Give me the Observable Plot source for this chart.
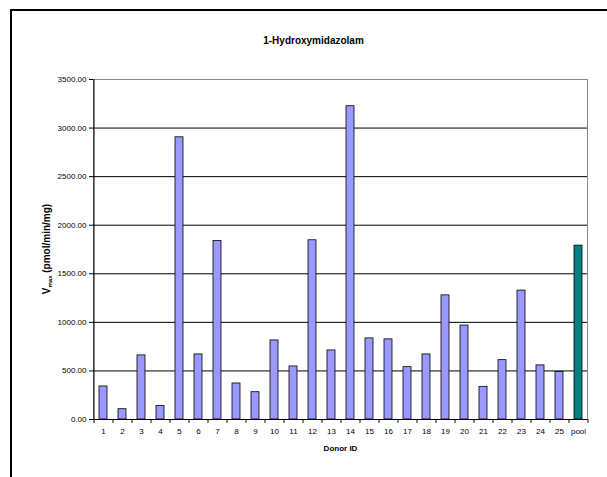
<!DOCTYPE html>
<html><head><meta charset="utf-8">
<script src="https://cdn.jsdelivr.net/npm/d3@7"></script>
<script src="https://cdn.jsdelivr.net/npm/@observablehq/plot@0.6"></script>
<style>
body{margin:0;background:#fff;font-family:"Liberation Sans",Arial,sans-serif;position:relative;width:607px;height:477px;overflow:hidden}
#border{position:absolute;left:10px;top:9px;width:700px;height:600px;border-top:2px solid #000;border-left:2px solid #000;pointer-events:none}
#title{height:60px;box-sizing:border-box;padding-top:35px;padding-left:20px;text-align:center;font-weight:bold;font-size:10px;line-height:12px;color:#000}
#chart svg{display:block}
</style></head>
<body>
<div id="title">1-Hydroxymidazolam</div>
<div id="chart"></div>
<div id="border"></div>
<script>
const donors = ["1","2","3","4","5","6","7","8","9","10","11","12","13","14","15","16","17","18","19","20","21","22","23","24","25","pool"];
const vmax = [340,106,660,140,2905,670,1838,371,281,814,546,1845,711,3225,835,825,539,670,1278,967,336,611,1327,557,488,1790];
const yTicks = [0,500,1000,1500,2000,2500,3000,3500];
const xLabel = "Donor ID";
const yLabelMain = "V";
const yLabelSub = "max";
const yLabelRest = " (pmol/min/mg)";

const data = donors.map((d,i)=>({donor:d, value:vmax[i]}));
const W=607,H=417,ML=93,MR=20,MT=19,MB=58;
const step=(W-ML-MR)/donors.length;
const font = "'Liberation Sans', Arial, sans-serif";

const plot = Plot.plot({
  width:W,height:H,marginLeft:ML,marginRight:MR,marginTop:MT,marginBottom:MB,
  style:{fontFamily:font,fontSize:"8px",color:"#000",background:"transparent"},
  x:{type:"band",domain:donors,paddingInner:0.58,paddingOuter:0.29,label:null},
  y:{domain:[yTicks[0],yTicks[yTicks.length-1]],label:null},
  marks:[
    Plot.frame({stroke:"#888"}),
    Plot.ruleY(yTicks.filter(t=>t>0&&t<3500),{stroke:"#000",strokeWidth:1}),
    Plot.barY(data.filter(d=>d.donor!=="pool"),{x:"donor",y:"value",fill:"#9999FF",stroke:"#000",strokeWidth:0.8}),
    Plot.barY(data.filter(d=>d.donor==="pool"),{x:"donor",y:"value",fill:"#008080",stroke:"#000",strokeWidth:0.8}),
    Plot.ruleY([0],{stroke:"#000"}),
    Plot.ruleX([donors[0]],{x:d=>d,dx:-step/2,y1:0,y2:3500,stroke:"#000"}),
    Plot.ruleX(donors,{x:d=>d,dx:-step/2,y1:0,y2:-40,stroke:"#000"}),
    Plot.ruleX([donors[donors.length-1]],{x:d=>d,dx:step/2,y1:0,y2:-40,stroke:"#000"}),
    Plot.axisY({ticks:yTicks,tickFormat:d=>d.toFixed(2),tickSize:4,tickPadding:3,label:null}),
    Plot.axisX({tickSize:0,tickPadding:9,label:null}),
    Plot.text([xLabel],{text:d=>d,frameAnchor:"bottom",dy:31,fontWeight:"bold",fontSize:8,fill:"#000"})
  ]
});
document.getElementById("chart").appendChild(plot);

const t = d3.select(plot).append("text")
  .attr("transform",`translate(50,${(MT+H-MB)/2})rotate(-90)`)
  .attr("text-anchor","middle")
  .attr("font-family",font)
  .attr("font-weight","bold")
  .attr("font-size",10)
  .attr("fill","#000");
t.append("tspan").text(yLabelMain);
t.append("tspan").attr("font-size",6).attr("dy",2).text(yLabelSub);
t.append("tspan").attr("dy",-2).text(yLabelRest);
</script>
</body></html>
